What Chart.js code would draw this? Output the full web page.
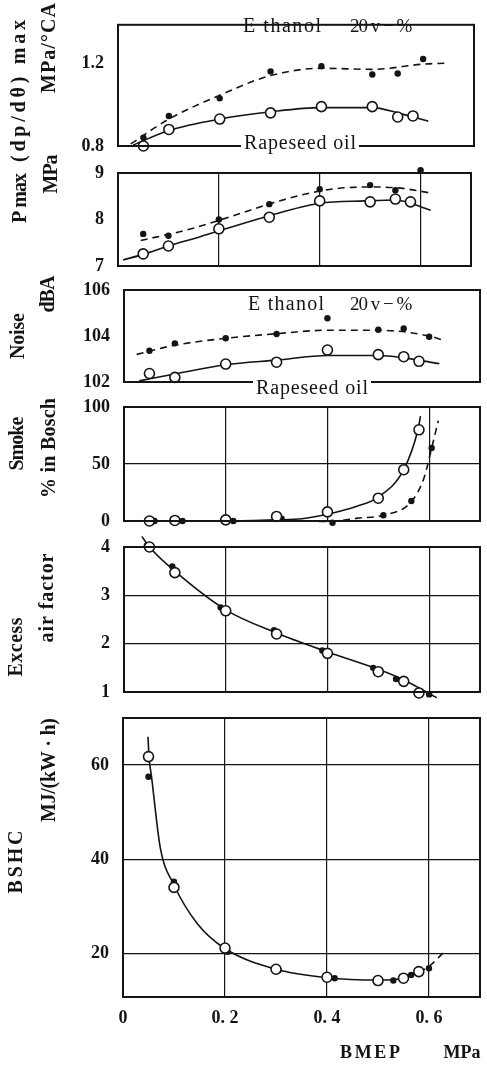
<!DOCTYPE html>
<html><head><meta charset="utf-8">
<script src="https://cdn.jsdelivr.net/npm/chart.js@4/dist/chart.umd.min.js"></script>
<style>
html,body{margin:0;padding:0;background:#fff;}
#wrap{position:relative;width:487px;height:1066px;overflow:hidden;background:#fff;}
#wrap canvas{position:absolute;left:0;top:0;}
</style></head><body><div id="wrap">
<canvas id="c1" width="487" height="1066"></canvas>
<canvas id="c2" width="487" height="1066"></canvas>
<canvas id="c3" width="487" height="1066"></canvas>
<canvas id="c4" width="487" height="1066"></canvas>
<canvas id="c5" width="487" height="1066"></canvas>
<canvas id="c6" width="487" height="1066"></canvas>
</div>
<script>
// ---------- DATA ----------
const bmepRape = [0.05, 0.1, 0.2, 0.3, 0.4, 0.5, 0.55, 0.58];
const bmepEth  = [0.05, 0.1, 0.2, 0.3, 0.4, 0.5, 0.55, 0.6];
const xTickValues = [0, 0.2, 0.4, 0.6];
const xTickLabels = ['0', '0. 2', '0. 4', '0. 6'];

// (dp/dθ)max, MPa/°CA
const dpRape = [0.80, 0.88, 0.93, 0.96, 0.99, 0.99, 0.94, 0.945];
const dpEth  = [0.84, 0.945, 1.03, 1.16, 1.185, 1.145, 1.15, 1.22];
const dpRapeFitX = [0.03, 0.1, 0.2, 0.3, 0.4, 0.5, 0.55, 0.61];
const dpRapeFit  = [0.805, 0.875, 0.93, 0.965, 0.985, 0.985, 0.96, 0.92];
const dpEthFitX  = [0.025, 0.1, 0.2, 0.3, 0.4, 0.5, 0.6, 0.645];
const dpEthFit   = [0.81, 0.93, 1.045, 1.14, 1.175, 1.17, 1.195, 1.2];
const dpTicks = [0.8, 1.2];

// Pmax, MPa
const pmaxRape = [7.26, 7.43, 7.8, 8.05, 8.4, 8.38, 8.44, 8.38];
const pmaxEth  = [7.69, 7.65, 8.0, 8.33, 8.65, 8.74, 8.63, 9.06];
const pmaxRapeFitX = [0.01, 0.05, 0.1, 0.16, 0.29, 0.4, 0.49, 0.55, 0.62];
const pmaxRapeFit  = [7.13, 7.25, 7.43, 7.62, 8.05, 8.35, 8.4, 8.42, 8.2];
const pmaxEthFitX  = [0.045, 0.135, 0.22, 0.32, 0.41, 0.49, 0.555, 0.62];
const pmaxEthFit   = [7.55, 7.77, 8.05, 8.4, 8.63, 8.7, 8.68, 8.57];
const pmaxTicks = [7, 8, 9];

// Noise, dBA
const noiseRape = [102.37, 102.2, 102.78, 102.86, 103.39, 103.19, 103.1, 102.9];
const noiseEth  = [103.36, 103.68, 103.9, 104.09, 104.77, 104.27, 104.33, 103.97];
const noiseRapeFitX = [0.03, 0.1, 0.2, 0.3, 0.4, 0.5, 0.55, 0.62];
const noiseRapeFit  = [102.05, 102.35, 102.75, 102.95, 103.15, 103.15, 103.05, 102.8];
const noiseEthFitX  = [0.025, 0.1, 0.2, 0.3, 0.4, 0.5, 0.6, 0.63];
const noiseEthFit   = [103.2, 103.6, 103.9, 104.1, 104.25, 104.25, 104.0, 103.8];
const noiseTicks = [102, 104, 106];

// Smoke, % in Bosch
const smokeRape = [0, 0.5, 1, 4, 8, 20, 45, 80];
const smokeEthX = [0.06, 0.115, 0.215, 0.31, 0.41, 0.51, 0.565, 0.605];
const smokeEth  = [0, 0, 0, 2, -1.5, 5, 17.5, 64];
const smokeRapeFitX = [0.01, 0.1, 0.2, 0.3, 0.35, 0.4, 0.455, 0.5, 0.55, 0.578, 0.583];
const smokeRapeFit  = [0, 0, 0, 1, 2, 6, 12.5, 21, 45, 80, 92];
const smokeEthFitX  = [0.36, 0.4, 0.46, 0.51, 0.565, 0.59, 0.605, 0.618];
const smokeEthFit   = [0, -0.5, 2.5, 5, 17, 38, 64, 88];
const smokeTicks = [0, 50, 100];

// Excess air factor
const airRape = [4.0, 3.47, 2.68, 2.2, 1.8, 1.42, 1.22, 0.98];
const airEthX = [0.045, 0.095, 0.19, 0.295, 0.39, 0.49, 0.535, 0.6];
const airEth  = [4.03, 3.6, 2.75, 2.28, 1.86, 1.5, 1.27, 0.95];
const airFitX = [0.035, 0.05, 0.1, 0.2, 0.3, 0.4, 0.5, 0.55, 0.6, 0.615];
const airFit  = [4.22, 4.0, 3.5, 2.7, 2.22, 1.83, 1.47, 1.25, 0.97, 0.88];
const airTicks = [1, 2, 3, 4];

// BSHC, MJ/(kW·h)
const bshcRape = [61.8, 34.0, 21.1, 16.6, 14.9, 14.2, 14.7, 16.1];
const bshcEthX = [0.05, 0.1, 0.205, 0.305, 0.415, 0.53, 0.565, 0.6];
const bshcEth  = [57.5, 35.2, 20.3, 16.4, 14.7, 14.2, 15.4, 16.8];
const bshcFitX = [0.049, 0.051, 0.056, 0.073, 0.1, 0.145, 0.2, 0.3, 0.4, 0.5, 0.55, 0.59];
const bshcFit  = [66, 61.8, 57.5, 42.5, 34.5, 26.4, 21, 16.6, 14.8, 14.3, 14.7, 16.5];
const bshcEthFitX = [0.58, 0.6, 0.63];
const bshcEthFit  = [16.0, 17.2, 20.3];
const bshcTicks = [20, 40, 60];

// ---------- STYLE / LAYOUT ----------
const INK = '#141414';
const SERIF = '"Liberation Serif", "DejaVu Serif", serif';
const W = 487, H = 1066;

const pts = (xs, ys) => xs.map((x, i) => ({x, y: ys[i]}));
const openSet = (xs, ys) => ({data: pts(xs, ys), showLine: false, pointRadius: 5, pointBackgroundColor: '#fff',
  pointBorderColor: INK, pointBorderWidth: 1.6, clip: false, order: 0});
const dotSet = (xs, ys) => ({data: pts(xs, ys), showLine: false, pointRadius: 3.2, pointBackgroundColor: INK,
  pointBorderColor: INK, pointBorderWidth: 0, clip: false, order: 1});
const fitSet = (xs, ys, dashed) => ({data: pts(xs, ys), showLine: true, pointRadius: 0, borderColor: INK,
  borderWidth: 1.6, borderDash: dashed ? [7, 5] : [], cubicInterpolationMode: 'monotone', clip: false, order: 2, fill: false});

const boxText = {
  id: 'boxText',
  afterDraw(chart, args, opts) {
    const {ctx, chartArea: a} = chart;
    ctx.save();
    ctx.strokeStyle = INK; ctx.lineWidth = 2;
    ctx.strokeRect(a.left, a.top, a.right - a.left, a.bottom - a.top);
    for (const t of (opts.texts || [])) {
      ctx.save();
      ctx.font = t.font || ('17px ' + SERIF);
      ctx.fillStyle = INK;
      ctx.textBaseline = 'middle';
      ctx.letterSpacing = '0px';
      if (t.w) {
        const m = ctx.measureText(t.text).width;
        const n = [...t.text].length;
        const sp = Math.max(-1, (t.w - m) / Math.max(1, n - 1));
        ctx.letterSpacing = sp.toFixed(2) + 'px';
      }
      const tw = t.w || ctx.measureText(t.text).width;
      ctx.translate(t.x, t.y);
      if (t.rot) ctx.rotate(-Math.PI / 2);
      const align = t.align || 'center';
      const x0 = align === 'left' ? 0 : -tw / 2;
      if (t.bg) { ctx.fillStyle = '#fff'; ctx.fillRect(x0 - 3, -9, tw + 6, 18); ctx.fillStyle = INK; }
      ctx.textAlign = 'left';
      ctx.fillText(t.text, x0, 0);
      ctx.restore();
    }
    ctx.restore();
  }
};

function panel(id, f, ymin, ymax, yTicks, datasets, o) {
  return new Chart(document.getElementById(id), {
    type: 'scatter',
    data: {datasets},
    plugins: [boxText],
    options: {
      responsive: false, animation: false, devicePixelRatio: 1,
      layout: {padding: {top: f.T, right: W - f.R, left: 0, bottom: 0}},
      plugins: {legend: {display: false}, tooltip: {enabled: false}, boxText: {texts: o.texts}},
      scales: {
        x: {
          type: 'linear', min: 0, max: 0.7,
          afterBuildTicks: s => { s.ticks = xTickValues.map(v => ({value: v})); },
          afterFit: s => { s.height = H - f.B; },
          grid: {display: !!o.gridX, color: INK, lineWidth: 1.2, drawTicks: false},
          border: {display: false},
          ticks: {display: !!o.xLabels, padding: 11, color: INK,
            font: {family: SERIF, size: 18, weight: 'bold'},
            callback: (v) => { const i = xTickValues.indexOf(v); return i >= 0 ? xTickLabels[i] : ''; }}
        },
        y: {
          type: 'linear', min: ymin, max: ymax,
          afterBuildTicks: s => { s.ticks = yTicks.map(v => ({value: v})); },
          afterFit: s => { s.width = f.L; },
          grid: {display: !!o.gridY, color: INK, lineWidth: 1.2, drawTicks: false},
          border: {display: false},
          ticks: {padding: 14, color: INK, font: {family: SERIF, size: 18, weight: 'bold'},
            callback: v => String(v)}
        }
      }
    }
  });
}

const T = (text, x, y, extra) => Object.assign({text, x, y}, extra || {});
const titleFont = 'bold 20px ' + SERIF;
const noteFont = '20px ' + SERIF;

panel('c1', {L: 118, R: 474, T: 13, B: 146}, 0.8, 1.385, dpTicks, [
  openSet(bmepRape, dpRape), dotSet(bmepEth, dpEth),
  fitSet(dpRapeFitX, dpRapeFit, false), fitSet(dpEthFitX, dpEthFit, true)
], {texts: [
  T('(dp/dθ) max', 20, 91, {rot: true, font: titleFont, w: 142}),
  T('MPa/°CA', 50, 48, {rot: true, font: titleFont, w: 90}),
  T('E thanol', 243, 27, {align: 'left', font: noteFont, w: 78}),
  T('20 v − %', 350, 27, {align: 'left', font: '19px ' + SERIF, w: 58}),
  T('Rapeseed oil', 300, 144, {font: noteFont, w: 112, bg: true})
]});

panel('c2', {L: 118, R: 471, T: 173, B: 266}, 7, 9, pmaxTicks, [
  openSet(bmepRape, pmaxRape), dotSet(bmepEth, pmaxEth),
  fitSet(pmaxRapeFitX, pmaxRapeFit, false), fitSet(pmaxEthFitX, pmaxEthFit, true)
], {gridX: true, texts: [
  T('P max', 21, 200, {rot: true, font: titleFont, w: 46}),
  T('MPa', 52, 178, {rot: true, font: titleFont, w: 31})
]});

panel('c3', {L: 124, R: 480, T: 290, B: 382}, 102, 106, noiseTicks, [
  openSet(bmepRape, noiseRape), dotSet(bmepEth, noiseEth),
  fitSet(noiseRapeFitX, noiseRapeFit, false), fitSet(noiseEthFitX, noiseEthFit, true)
], {texts: [
  T('Noise', 19, 336, {rot: true, font: titleFont, w: 46}),
  T('dBA', 49, 298, {rot: true, font: titleFont, w: 29}),
  T('E thanol', 248, 305, {align: 'left', font: noteFont, w: 76}),
  T('20 v − %', 350, 305, {align: 'left', font: '19px ' + SERIF, w: 58}),
  T('Rapeseed oil', 312, 389, {font: noteFont, w: 112, bg: true})
]});

panel('c4', {L: 124, R: 480, T: 407, B: 521}, 0, 100, smokeTicks, [
  openSet(bmepRape, smokeRape), dotSet(smokeEthX, smokeEth),
  fitSet(smokeRapeFitX, smokeRapeFit, false), fitSet(smokeEthFitX, smokeEthFit, true)
], {gridX: true, gridY: true, texts: [
  T('Smoke', 18, 444, {rot: true, font: titleFont, w: 53}),
  T('% in Bosch', 50, 448, {rot: true, font: titleFont, w: 100})
]});

panel('c5', {L: 124, R: 480, T: 547, B: 692}, 1, 4, airTicks, [
  openSet(bmepRape, airRape), dotSet(airEthX, airEth),
  fitSet(airFitX, airFit, false)
], {gridX: true, gridY: true, texts: [
  T('Excess', 17, 647, {rot: true, font: titleFont, w: 59}),
  T('air factor', 48, 598, {rot: true, font: titleFont, w: 89})
]});

panel('c6', {L: 123, R: 480, T: 718, B: 997}, 10.7, 70, bshcTicks, [
  openSet(bmepRape, bshcRape), dotSet(bshcEthX, bshcEth),
  fitSet(bshcFitX, bshcFit, false), fitSet(bshcEthFitX, bshcEthFit, true)
], {gridX: true, gridY: true, xLabels: true, texts: [
  T('BSHC', 17, 862, {rot: true, font: titleFont, w: 63}),
  T('MJ/(kW · h)', 50, 770, {rot: true, font: titleFont, w: 104}),
  T('BMEP', 370, 1053, {font: 'bold 18px ' + SERIF, w: 60}),
  T('MPa', 462, 1053, {font: 'bold 18px ' + SERIF})
]});
</script></body></html>
